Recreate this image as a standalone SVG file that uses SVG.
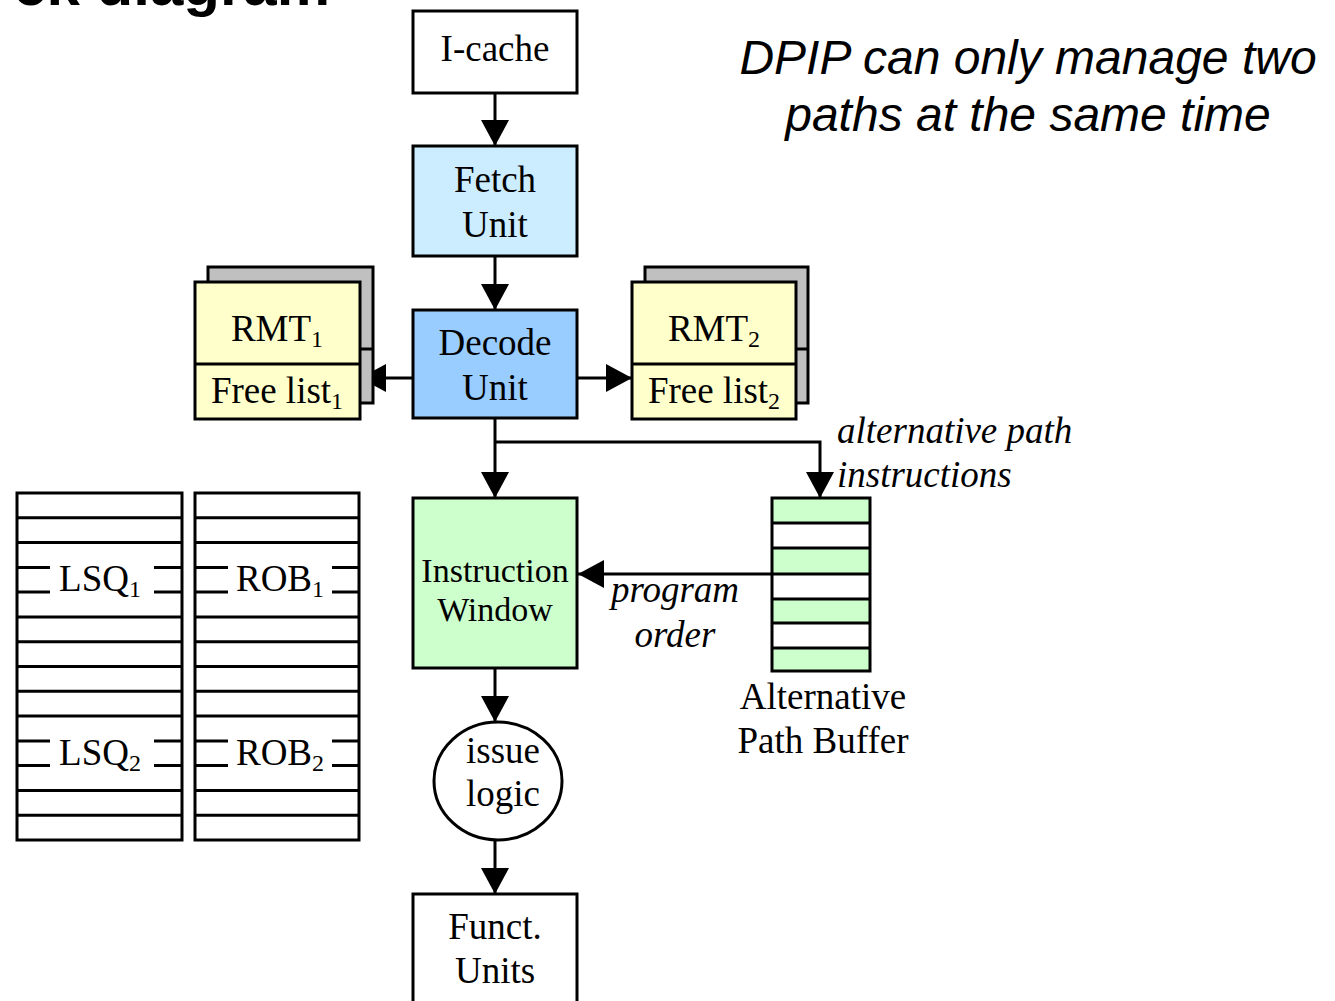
<svg xmlns="http://www.w3.org/2000/svg" width="1335" height="1001" viewBox="0 0 1335 1001">
  <style>
    .box { stroke: #000; stroke-width: 3; }
    .plain { fill: #fff; }
    .fetch { fill: #CCECFF; }
    .decode { fill: #99CCFF; }
    .rmt { fill: #FFFFCC; }
    .shadow { fill: #C0C0C0; }
    .green { fill: #CCFFCC; }
    .row { stroke: #000; stroke-width: 3; fill: none; }
    .wire { stroke: #000; stroke-width: 3; fill: none; }
    .lbl { font-family: "Liberation Serif", "Times New Roman", serif; font-size: 37px; fill: #000; text-anchor: middle; }
    .small { font-size: 34px; }
    .ital { font-family: "Liberation Serif", "Times New Roman", serif; font-size: 37px; font-style: italic; fill: #000; }
    .sub { font-size: 24px; }
    .note { font-family: "Liberation Sans", Arial, sans-serif; font-size: 48px; font-style: italic; fill: #000; text-anchor: middle; }
    .title { font-family: "Liberation Sans", Arial, sans-serif; font-size: 60px; font-weight: bold; fill: #000; text-anchor: end; }
  </style>
  <defs>
    <marker id="arrow" markerUnits="userSpaceOnUse" markerWidth="28" markerHeight="30" refX="26" refY="14" orient="auto" viewBox="0 0 28 30">
      <path d="M0,0 L26,14 L0,28 z" fill="#000"/>
    </marker>
  </defs>

  <!-- heading, cropped at the top edge -->
  <text class="title" x="330" y="5">ck diagram</text>

  <!-- side note -->
  <text class="note" x="1028" y="74">DPIP can only manage two</text>
  <text class="note" x="1028" y="131">paths at the same time</text>

  <!-- connectors -->
  <g id="connectors">
    <line class="wire" x1="495" y1="93" x2="495" y2="146" marker-end="url(#arrow)"/>
    <line class="wire" x1="495" y1="256" x2="495" y2="310" marker-end="url(#arrow)"/>
    <line class="wire" x1="413" y1="378" x2="360" y2="378" marker-end="url(#arrow)"/>
    <line class="wire" x1="577" y1="378" x2="632" y2="378" marker-end="url(#arrow)"/>
    <line class="wire" x1="495" y1="418" x2="495" y2="498" marker-end="url(#arrow)"/>
    <polyline class="wire" points="495,442 820,442 820,498" marker-end="url(#arrow)"/>
    <line class="wire" x1="772" y1="574" x2="578" y2="574" marker-end="url(#arrow)"/>
    <line class="wire" x1="495" y1="668" x2="495" y2="722" marker-end="url(#arrow)"/>
    <line class="wire" x1="495" y1="840" x2="495" y2="894" marker-end="url(#arrow)"/>
  </g>

  <!-- I-cache -->
  <g id="icache">
    <rect class="box plain" x="413" y="11" width="164" height="82"/>
    <text class="lbl" x="495" y="61">I-cache</text>
  </g>

  <!-- Fetch Unit -->
  <g id="fetch">
    <rect class="box fetch" x="413" y="146" width="164" height="110"/>
    <text class="lbl" x="495" y="192">Fetch</text>
    <text class="lbl" x="495" y="237">Unit</text>
  </g>

  <!-- Decode Unit -->
  <g id="decode">
    <rect class="box decode" x="413" y="310" width="164" height="108"/>
    <text class="lbl" x="495" y="355">Decode</text>
    <text class="lbl" x="495" y="400">Unit</text>
  </g>

  <!-- RMT 1 / Free list 1 (stacked copies) -->
  <g id="rmt1">
    <rect class="box shadow" x="208" y="267" width="165" height="136"/>
    <line class="row" x1="208" y1="349" x2="373" y2="349"/>
    <rect class="box rmt" x="195" y="282" width="165" height="137"/>
    <line class="row" x1="195" y1="364" x2="360" y2="364"/>
    <text class="lbl" x="277" y="341">RMT<tspan class="sub" dy="6">1</tspan></text>
    <text class="lbl" x="277" y="403">Free list<tspan class="sub" dy="6">1</tspan></text>
  </g>

  <!-- RMT 2 / Free list 2 (stacked copies) -->
  <g id="rmt2">
    <rect class="box shadow" x="645" y="267" width="163" height="136"/>
    <line class="row" x1="645" y1="349" x2="808" y2="349"/>
    <rect class="box rmt" x="632" y="282" width="164" height="137"/>
    <line class="row" x1="632" y1="364" x2="796" y2="364"/>
    <text class="lbl" x="714" y="341">RMT<tspan class="sub" dy="6">2</tspan></text>
    <text class="lbl" x="714" y="403">Free list<tspan class="sub" dy="6">2</tspan></text>
  </g>

  <!-- Load/store queues -->
  <g id="lsq">
    <rect class="box plain" x="17" y="493" width="165" height="347"/>
    <path class="row" d="M17,517.8H182 M17,542.6H182 M17,567.4H50 M154,567.4H182 M17,592.1H50 M154,592.1H182 M17,616.9H182 M17,641.7H182 M17,666.5H182 M17,691.3H182 M17,716.1H182 M17,740.9H50 M154,740.9H182 M17,765.6H50 M154,765.6H182 M17,790.4H182 M17,815.2H182"/>
    <text class="lbl" x="100" y="591">LSQ<tspan class="sub" dy="6">1</tspan></text>
    <text class="lbl" x="100" y="765">LSQ<tspan class="sub" dy="6">2</tspan></text>
  </g>

  <!-- Reorder buffers -->
  <g id="rob">
    <rect class="box plain" x="195" y="493" width="164" height="347"/>
    <path class="row" d="M195,517.8H359 M195,542.6H359 M195,567.4H228 M332,567.4H359 M195,592.1H228 M332,592.1H359 M195,616.9H359 M195,641.7H359 M195,666.5H359 M195,691.3H359 M195,716.1H359 M195,740.9H228 M332,740.9H359 M195,765.6H228 M332,765.6H359 M195,790.4H359 M195,815.2H359"/>
    <text class="lbl" x="280" y="591">ROB<tspan class="sub" dy="6">1</tspan></text>
    <text class="lbl" x="280" y="765">ROB<tspan class="sub" dy="6">2</tspan></text>
  </g>

  <!-- Instruction Window -->
  <g id="window">
    <rect class="box green" x="413" y="498" width="164" height="170"/>
    <text class="lbl small" x="495" y="582">Instruction</text>
    <text class="lbl small" x="495" y="621">Window</text>
  </g>

  <!-- Alternative Path Buffer -->
  <g id="apb">
    <rect class="green" x="772" y="498" width="98" height="25"/>
    <rect class="plain" x="772" y="523" width="98" height="25"/>
    <rect class="green" x="772" y="548" width="98" height="26"/>
    <rect class="plain" x="772" y="574" width="98" height="25"/>
    <rect class="green" x="772" y="599" width="98" height="24"/>
    <rect class="plain" x="772" y="623" width="98" height="25"/>
    <rect class="green" x="772" y="648" width="98" height="23"/>
    <path class="row" d="M772,523H870 M772,548H870 M772,574H870 M772,599H870 M772,623H870 M772,648H870"/>
    <rect class="box" fill="none" x="772" y="498" width="98" height="173"/>
    <text class="lbl" x="823" y="709">Alternative</text>
    <text class="lbl" x="823" y="753">Path Buffer</text>
  </g>

  <!-- connector labels -->
  <g id="labels">
    <text class="ital" x="837" y="443">alternative path</text>
    <text class="ital" x="837" y="487">instructions</text>
    <text class="ital" x="675" y="602" text-anchor="middle">program</text>
    <text class="ital" x="675" y="647" text-anchor="middle">order</text>
  </g>

  <!-- issue logic -->
  <g id="issue">
    <ellipse class="box plain" cx="498" cy="781" rx="64" ry="59"/>
    <text class="lbl" x="503" y="763">issue</text>
    <text class="lbl" x="503" y="806">logic</text>
  </g>

  <!-- Functional units -->
  <g id="funct">
    <rect class="box plain" x="413" y="894" width="164" height="112"/>
    <text class="lbl" x="495" y="939">Funct.</text>
    <text class="lbl" x="495" y="983">Units</text>
  </g>
</svg>
